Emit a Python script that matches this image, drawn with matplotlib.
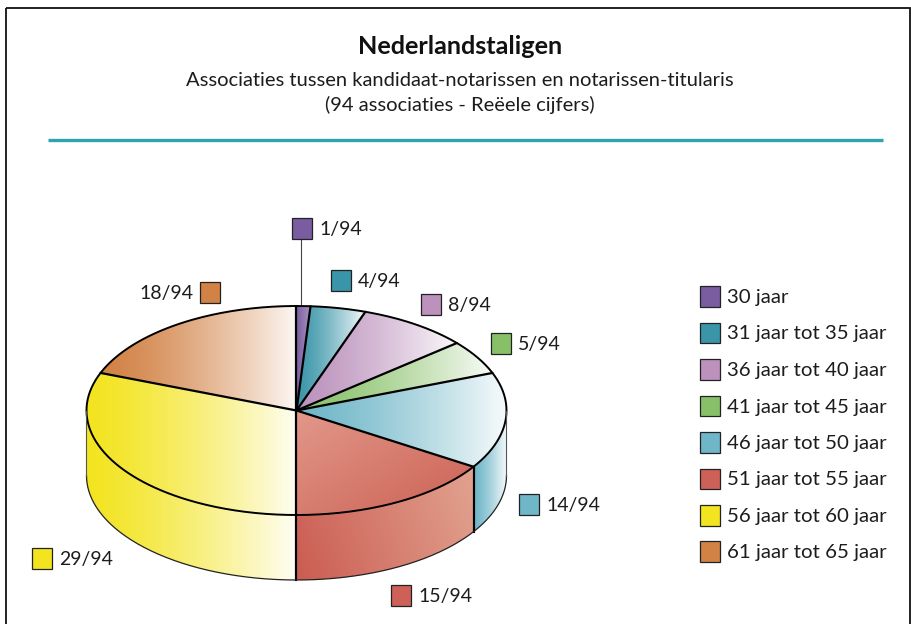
import matplotlib
matplotlib.use('Agg')
import matplotlib.pyplot as plt
from matplotlib.colors import to_rgb
from matplotlib.patches import Rectangle, Polygon
import numpy as np

title = 'Nederlandstaligen'
subtitle = 'Associaties tussen kandidaat-notarissen en notarissen-titularis'
subtitle2 = '(94 associaties - Reëele cijfers)'

age_labels = ['30 jaar', '31 jaar tot 35 jaar', '36 jaar tot 40 jaar', '41 jaar tot 45 jaar',
              '46 jaar tot 50 jaar', '51 jaar tot 55 jaar', '56 jaar tot 60 jaar', '61 jaar tot 65 jaar']
counts = [1, 4, 8, 5, 14, 15, 29, 18]
total = 94

colors = ['#7a5ca0', '#3a95a8', '#bc92bd', '#88c068', '#6fb6c8', '#cd6158', '#f3e420', '#d28245']

# pie geometry in pixels
cx, cy = 296.5, 410.5
rx, ry = 210, 104.5
depth = 65

# swatch top left corner for each slice label
label_pos = [(292, 218), (331, 270), (421, 294), (491, 333), (519, 494), (391, 585), (32, 548), (200, 282)]

plt.rcParams['font.family'] = ['Lato', 'DejaVu Sans']

fig = plt.figure(figsize=(9.12, 6.24), dpi=100)
ax = fig.add_axes([0, 0, 1, 1])
ax.set_xlim(0, 912)
ax.set_ylim(624, 0)
ax.axis('off')


def mix(c, amount):
    c = np.array(to_rgb(c))
    return c + (1 - c) * amount


def pt(a):
    # a in degrees, clockwise from the top
    r = np.radians(a)
    return cx + rx * np.sin(r), cy - ry * np.cos(r)


def grad_fill(xy, c0, c1, direction=(1, 0), gamma=1.0):
    xy = np.array(xy)
    x0, x1 = xy[:, 0].min(), xy[:, 0].max()
    y0, y1 = xy[:, 1].min(), xy[:, 1].max()
    xx, yy = np.meshgrid(np.linspace(x0, x1, 300), np.linspace(y0, y1, 200))
    t = (xx - x0) * direction[0] + (yy - y0) * direction[1]
    t = ((t - t.min()) / (t.max() - t.min())) ** gamma
    img = np.array(c0)[None, None, :] * (1 - t[..., None]) + np.array(c1)[None, None, :] * t[..., None]
    im = ax.imshow(img, extent=(x0, x1, y1, y0), aspect='auto', zorder=2, interpolation='bilinear')
    im.set_clip_path(Polygon(xy, closed=True, transform=ax.transData))
    ax.set_xlim(0, 912)
    ax.set_ylim(624, 0)


# frame and rule
ax.add_patch(Rectangle((6.5, 8), 904, 620, fill=False, ec='#111111', lw=1.3, zorder=1))
ax.plot([48, 883], [139.5, 139.5], color='#2fa3b0', lw=2.4, solid_capstyle='butt', zorder=1)

ax.text(460.5, 46, title, ha='center', va='center', fontsize=18.2, fontweight='bold', color='#111111')
ax.text(460, 80, subtitle, ha='center', va='center', fontsize=14.5, color='#1c1c1c')
ax.text(460, 105, subtitle2, ha='center', va='center', fontsize=14.5, color='#1c1c1c')

edges = np.cumsum([0] + counts) / total * 360

# side faces, only the front half shows
for i in range(len(counts)):
    a0, a1 = max(edges[i], 90), min(edges[i + 1], 270)
    if a1 <= a0:
        continue
    angs = np.linspace(a0, a1, 80)
    top = [pt(a) for a in angs]
    bottom = [(x, y + depth) for x, y in top][::-1]
    if i == 5:
        grad_fill(top + bottom, to_rgb('#cb5c52'), to_rgb('#e2a390'), (1, -0.35))
    else:
        grad_fill(top + bottom, to_rgb(colors[i]), mix(colors[i], 0.95), gamma=1.3)
    for a in (a0, a1):
        if 90 < a < 270:
            x, y = pt(a)
            ax.plot([x, x], [y, y + depth], color='black', lw=1.5, zorder=3)

# top faces
for i in range(len(counts)):
    angs = np.linspace(edges[i], edges[i + 1], 120)
    poly = [(cx, cy)] + [pt(a) for a in angs]
    if i == 5:
        grad_fill(poly, to_rgb('#e2988a'), to_rgb('#cb6154'), (0.6, 1))
    elif i == 0:
        grad_fill(poly, to_rgb(colors[i]), mix(colors[i], 0.35))
    else:
        grad_fill(poly, to_rgb(colors[i]), mix(colors[i], 0.94), gamma=1.35)

# outlines
aa = np.linspace(0, 360, 500)
ell = np.array([pt(a) for a in aa])
ax.plot(ell[:, 0], ell[:, 1], color='black', lw=1.4, zorder=4)
for e in edges[:-1]:
    x, y = pt(e)
    ax.plot([cx, x], [cy, y], color='black', lw=1.6, zorder=4, solid_capstyle='round')

lower = np.array([pt(a) for a in np.linspace(90, 270, 200)])
ax.plot(lower[:, 0], lower[:, 1] + depth, color='#222222', lw=0.9, zorder=4)
ax.plot([cx + rx, cx + rx], [cy, cy + depth], color='#555555', lw=0.8, zorder=4)
ax.plot([cx - rx, cx - rx], [cy, cy + depth], color='#555555', lw=0.8, zorder=4)

# leader line for the smallest slice
ax.plot([301.5, 301.5], [239, 305], color='#444444', lw=0.8, zorder=3)

# slice labels
for i, (x, y) in enumerate(label_pos):
    ax.add_patch(Rectangle((x, y), 20.5, 20.5, fc=colors[i], ec='#222222', lw=0.9, zorder=5))
    txt = f'{counts[i]}/{total}'
    if i == len(counts) - 1:
        ax.text(x - 7, y + 11.5, txt, ha='right', va='center', fontsize=14, color='#1c1c1c')
    else:
        ax.text(x + 27, y + 11.5, txt, ha='left', va='center', fontsize=14, color='#1c1c1c')

# legend
legend_y = [286, 322.5, 359, 395.5, 432, 468.5, 505, 541]
for i, y in enumerate(legend_y):
    ax.add_patch(Rectangle((700, y), 20.5, 20.5, fc=colors[i], ec='#222222', lw=0.9, zorder=5))
    ax.text(727, y + 11.5, age_labels[i], ha='left', va='center', fontsize=14.7, color='#1c1c1c')

fig.savefig('out.png', dpi=100)
